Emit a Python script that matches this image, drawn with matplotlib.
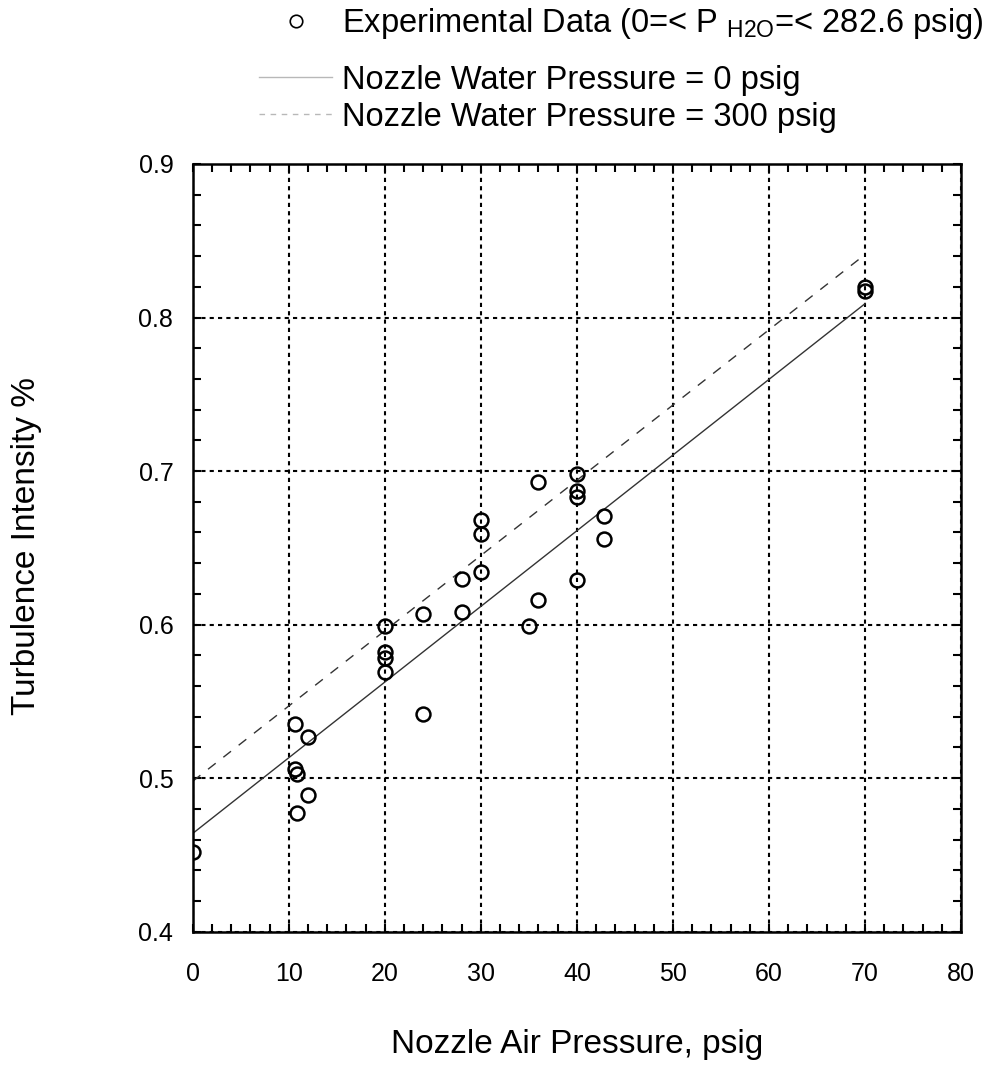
import numpy as np
import matplotlib
matplotlib.use("Agg")
import matplotlib.pyplot as plt
from matplotlib.lines import Line2D
from matplotlib.ticker import MultipleLocator

plt.rcParams['font.family'] = ['Liberation Sans', 'DejaVu Sans']
plt.rcParams['mathtext.fontset'] = 'custom'
plt.rcParams['mathtext.rm'] = 'Liberation Sans'

# dane pomiarowe
cisnienie_powietrza = [0, 10.6, 12, 10.6, 10.9, 12, 10.9,
                       20, 20, 20, 20, 24, 24, 28, 28,
                       30, 30, 30, 36, 36, 35,
                       40, 40, 40, 40, 42.8, 42.8, 70, 70]
turbulencja = [0.452, 0.535, 0.527, 0.506, 0.503, 0.489, 0.477,
               0.599, 0.582, 0.578, 0.569, 0.607, 0.542, 0.630, 0.608,
               0.668, 0.659, 0.634, 0.693, 0.616, 0.599,
               0.698, 0.687, 0.683, 0.629, 0.671, 0.656, 0.820, 0.817]

# linie modelu
x_model = [0, 70]
y_woda_0 = [0.464, 0.809]
y_woda_300 = [0.498, 0.841]

etykieta_dane = 'Experimental Data (0=< P $_{\\mathrm{H2O}}$=< 282.6 psig)'
etykiety_linie = ['Nozzle Water Pressure = 0 psig',
                  'Nozzle Water Pressure = 300 psig']

fig = plt.figure(figsize=(9.96, 10.78), dpi=100)
ax = fig.add_axes([0.1935, 0.1357, 0.7714, 0.7122])

ax.plot(x_model, y_woda_0, color='0.2', lw=1.0)
ax.plot(x_model, y_woda_300, color='0.2', lw=1.0, dashes=(7, 7))
ax.plot(cisnienie_powietrza, turbulencja, 'o', ms=10, mfc='none',
        mec='black', mew=1.8)

ax.set_xlim(0, 80)
ax.set_ylim(0.4, 0.9)
ax.xaxis.set_major_locator(MultipleLocator(10))
ax.xaxis.set_minor_locator(MultipleLocator(2))
ax.yaxis.set_major_locator(MultipleLocator(0.1))
ax.yaxis.set_minor_locator(MultipleLocator(0.02))
ax.set_yticklabels([f'{v:.1f}' for v in ax.get_yticks()])

ax.grid(True, which='major', color='black', lw=1.5, linestyle=(0, (2, 2)))
ax.tick_params(which='both', direction='in', top=True, right=True,
               length=5.5, width=1.5, labelsize=18)
ax.tick_params(axis='x', pad=22)
ax.tick_params(axis='y', pad=14)
for s in ax.spines.values():
    s.set_linewidth(1.8)

ax.set_xlabel('Nozzle Air Pressure, psig', fontsize=24)
ax.set_ylabel('Turbulence Intensity %', fontsize=24)
ax.xaxis.set_label_coords(0.5, -0.127)
ax.yaxis.set_label_coords(-0.196, 0.503)

# legenda nad wykresem (dwie czesci, pierwsza ma indeks dolny)
uchwyt_dane = Line2D([], [], ls='none', marker='o', ms=9, mfc='none', mec='black', mew=1.2)
uchwyty_linie = [Line2D([], [], color='0.72', lw=1.0),
                 Line2D([], [], color='0.72', lw=1.0, dashes=(4, 4))]
wspolne = dict(loc='upper left', frameon=False, fontsize=23.5, borderpad=0,
               borderaxespad=0, handlelength=2.25, handletextpad=0.3)
fig.legend([uchwyt_dane], [etykieta_dane], bbox_to_anchor=(259 / 996, 0.994), **wspolne)
fig.legend(uchwyty_linie, etykiety_linie, bbox_to_anchor=(259 / 996, 0.940),
           labelspacing=0.18, **wspolne)

fig.savefig('out.png', dpi=100)
